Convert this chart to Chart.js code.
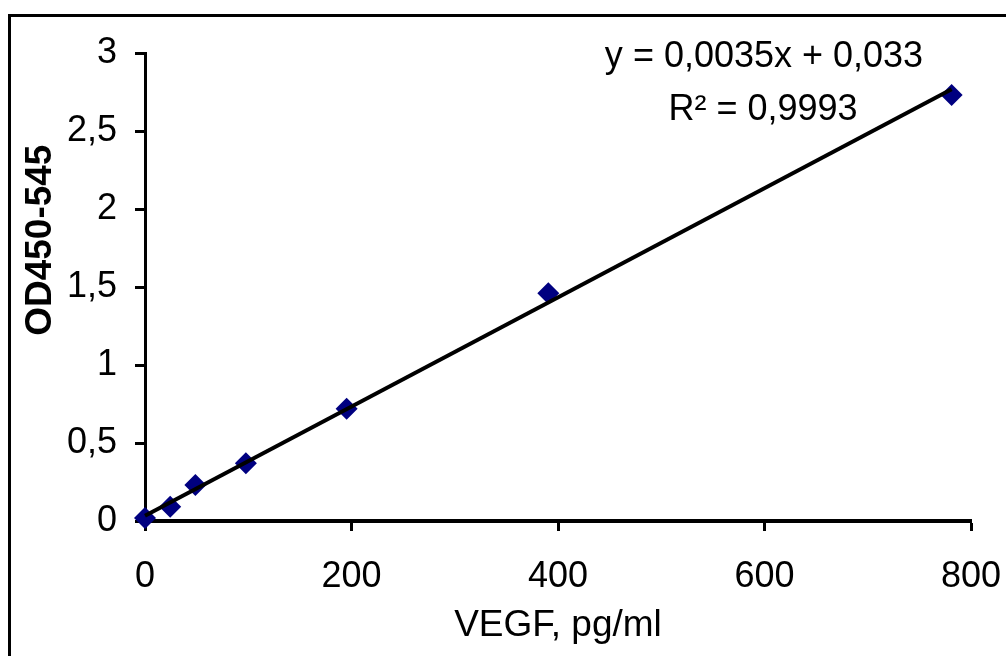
<!DOCTYPE html>
<html>
<head>
<meta charset="utf-8">
<script src="https://cdn.jsdelivr.net/npm/chart.js@4/dist/chart.umd.min.js"></script>
<style>
  html, body { margin: 0; padding: 0; background: #fff; }
  #wrap { width: 1006px; height: 656px; }
</style>
</head>
<body>
<div id="wrap"><canvas id="chart"></canvas></div>
<script>
// standard curve points (VEGF pg/ml vs OD)
const vegf = [0, 24.4, 48.8, 97.7, 195.3, 390.6, 781.25];
const od = [0.02, 0.092, 0.23, 0.37, 0.72, 1.46, 2.73];

// linear trendline as printed on the chart
const slope = 0.0035;
const intercept = 0.033;
const trendX = [0, 781.25];

const xTicks = [0, 200, 400, 600, 800];
const yTicks = [0, 0.5, 1, 1.5, 2, 2.5, 3];

const eqText = "y = 0,0035x + 0,033";
const r2Text = "R² = 0,9993";
const yTitle = "OD450-545";
const xTitle = "VEGF, pg/ml";

const FONT = '"Liberation Sans", Arial, sans-serif';
const comma = (v) => String(v).replace(".", ",");

const points = vegf.map((x, i) => ({ x: x, y: od[i] }));
const trend = trendX.map((x) => ({ x: x, y: slope * x + intercept }));

// outer frame, rotated y title and the equation box
const extras = {
  id: "extras",
  beforeDraw(chart) {
    const ctx = chart.ctx;
    ctx.save();
    ctx.fillStyle = "#fff";
    ctx.fillRect(0, 0, chart.width, chart.height);
    ctx.strokeStyle = "#000";
    ctx.lineWidth = 3;
    ctx.beginPath();
    ctx.moveTo(9.5, chart.height + 5);
    ctx.lineTo(9.5, 15.5);
    ctx.lineTo(chart.width + 5, 15.5);
    ctx.stroke();
    ctx.restore();
  },
  afterDraw(chart) {
    const ctx = chart.ctx;
    const area = chart.chartArea;
    ctx.save();
    ctx.fillStyle = "#000";
    ctx.textAlign = "center";
    ctx.textBaseline = "middle";
    ctx.font = "36px " + FONT;
    ctx.fillText(eqText, 764, 57);
    ctx.fillText(r2Text, 763, 110);
    ctx.translate(41, area.top + (area.bottom - area.top) * 0.4);
    ctx.rotate(-Math.PI / 2);
    ctx.font = "bold 37px " + FONT;
    ctx.fillText(yTitle, 0, 0);
    ctx.restore();
  },
};

new Chart(document.getElementById("chart"), {
  data: {
    datasets: [
      {
        type: "line",
        data: trend,
        borderColor: "#000",
        borderWidth: 4,
        pointRadius: 0,
        clip: false,
        order: 0,
      },
      {
        type: "scatter",
        data: points,
        pointStyle: "rectRot",
        pointRadius: 11,
        pointBackgroundColor: "#000080",
        pointBorderColor: "#000080",
        pointBorderWidth: 0,
        clip: false,
        order: 1,
      },
    ],
  },
  options: {
    responsive: true,
    maintainAspectRatio: false,
    animation: false,
    layout: { padding: { left: 0, top: 53, right: 35, bottom: 0 } },
    plugins: {
      legend: { display: false },
      tooltip: { enabled: false },
    },
    scales: {
      x: {
        type: "linear",
        min: 0,
        max: 800,
        afterBuildTicks: (s) => { s.ticks = xTicks.map((v) => ({ value: v })); },
        afterFit: (s) => {
          s.height = 135;
          s.paddingLeft = 0;
          s.paddingRight = 0;
        },
        border: { color: "#000", width: 4 },
        grid: { drawOnChartArea: false, tickLength: 10, tickWidth: 3, color: "#000" },
        ticks: {
          color: "#000",
          padding: 24,
          font: { family: FONT, size: 36 },
          callback: (v) => comma(v),
        },
        title: {
          display: true,
          text: xTitle,
          color: "#000",
          font: { family: FONT, size: 37 },
          padding: { top: 0, bottom: 8 },
        },
      },
      y: {
        type: "linear",
        min: 0,
        max: 3,
        afterBuildTicks: (s) => { s.ticks = yTicks.map((v) => ({ value: v })); },
        afterFit: (s) => {
          s.width = 145;
          s.paddingTop = 0;
          s.paddingBottom = 0;
        },
        border: { color: "#000", width: 3 },
        grid: { drawOnChartArea: false, tickLength: 10, tickWidth: 3, color: "#000" },
        ticks: {
          color: "#000",
          padding: 18,
          font: { family: FONT, size: 36 },
          callback: (v) => comma(v),
        },
      },
    },
  },
  plugins: [extras],
});
</script>
</body>
</html>
